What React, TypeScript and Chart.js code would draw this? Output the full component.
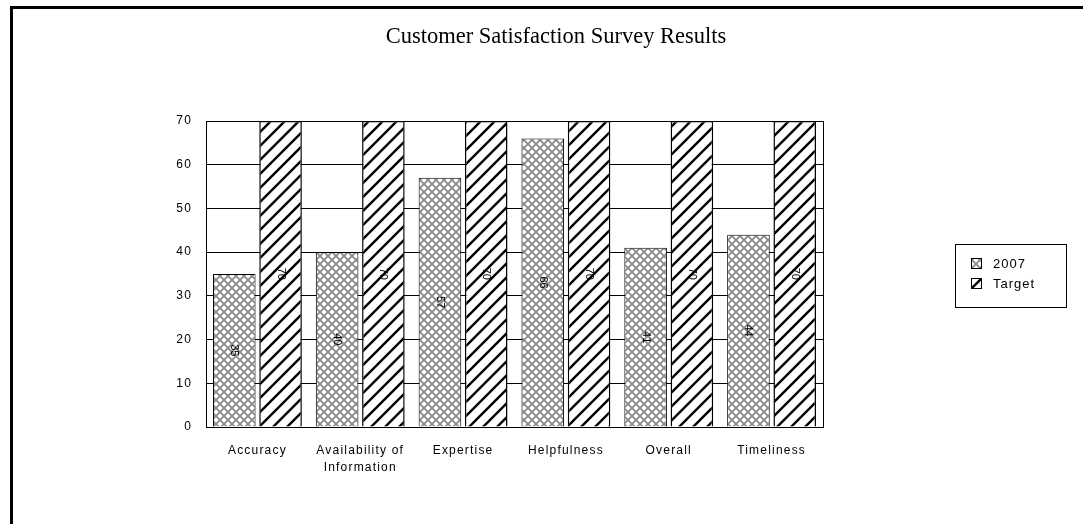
import React, { useEffect, useRef } from "react";
import { Chart, registerables } from "chart.js";

Chart.register(...registerables);

const categories: (string | string[])[] = [
  "Accuracy",
  ["Availability of", "Information"],
  "Expertise",
  "Helpfulness",
  "Overall",
  "Timeliness",
];
const values2007 = [35, 40, 57, 66, 41, 44];
const valuesTarget = [70, 70, 70, 70, 70, 70];
const seriesNames = ["2007", "Target"];
const yTicks = [0, 10, 20, 30, 40, 50, 60, 70];
const chartTitle = "Customer Satisfaction Survey Results";

function makeCrossHatch(): CanvasPattern | string {
  const c = document.createElement("canvas");
  c.width = 8;
  c.height = 8;
  const g = c.getContext("2d");
  if (!g) return "#ccc";
  g.fillStyle = "#ffffff";
  g.fillRect(0, 0, 8, 8);
  g.strokeStyle = "#8a8a8a";
  g.lineWidth = 1.8;
  g.beginPath();
  g.moveTo(-1, -1);
  g.lineTo(9, 9);
  g.moveTo(-1, 9);
  g.lineTo(9, -1);
  g.stroke();
  return g.createPattern(c, "repeat") as CanvasPattern;
}

function makeDiagonal(): CanvasPattern | string {
  const p = 14;
  const c = document.createElement("canvas");
  c.width = p;
  c.height = p;
  const g = c.getContext("2d");
  if (!g) return "#000";
  g.fillStyle = "#ffffff";
  g.fillRect(0, 0, p, p);
  g.strokeStyle = "#000000";
  g.lineWidth = 2.4;
  g.beginPath();
  g.moveTo(-1, p + 1);
  g.lineTo(p + 1, -1);
  g.moveTo(-3, 3);
  g.lineTo(3, -3);
  g.moveTo(p - 3, p + 3);
  g.lineTo(p + 3, p - 3);
  g.stroke();
  return g.createPattern(c, "repeat") as CanvasPattern;
}

export default function App() {
  const ref = useRef<HTMLCanvasElement | null>(null);

  useEffect(() => {
    document.body.style.margin = "0";
    const canvas = ref.current;
    if (!canvas) return;
    const cross = makeCrossHatch();
    const diag = makeDiagonal();

    const spacing = {
      id: "spacing",
      beforeDraw(chart: any) {
        (chart.ctx as any).letterSpacing = "1.2px";
      },
    };

    const decor = {
      id: "decor",
      afterDraw(chart: any) {
        const ctx = chart.ctx as CanvasRenderingContext2D;
        const area = chart.chartArea;
        ctx.save();
        (ctx as any).letterSpacing = "0px";
        // outer frame
        ctx.fillStyle = "#000";
        ctx.fillRect(10, 6, 3, 524);
        ctx.fillRect(10, 6, 1083, 3);
        // title
        ctx.font = '22.5px "Liberation Serif", "Times New Roman", serif';
        ctx.textAlign = "center";
        ctx.textBaseline = "middle";
        ctx.fillText(chartTitle, 556, 37);
        // right border of plot
        ctx.strokeStyle = "#000";
        ctx.lineWidth = 1;
        ctx.beginPath();
        ctx.moveTo(Math.round(area.right) + 0.5, area.top);
        ctx.lineTo(Math.round(area.right) + 0.5, area.bottom);
        ctx.stroke();
        // data labels, rotated
        ctx.font = '11px "Liberation Sans", Arial, sans-serif';
        chart.data.datasets.forEach((ds: any, di: number) => {
          const meta = chart.getDatasetMeta(di);
          meta.data.forEach((bar: any, i: number) => {
            const y = (bar.y + bar.base) / 2;
            ctx.save();
            ctx.translate(bar.x, y);
            ctx.rotate(Math.PI / 2);
            ctx.fillStyle = "#000";
            ctx.textAlign = "center";
            ctx.textBaseline = "middle";
            ctx.fillText(String(ds.data[i]), 0, 0);
            ctx.restore();
          });
        });
        // legend
        ctx.lineWidth = 1;
        ctx.strokeStyle = "#000";
        ctx.strokeRect(955.5, 244.5, 111, 63);
        const fills = [cross, diag];
        (ctx as any).letterSpacing = "1px";
        seriesNames.forEach((name, i) => {
          const sy = 258 + i * 20;
          ctx.fillStyle = fills[i] as any;
          ctx.fillRect(971, sy, 11, 11);
          ctx.strokeRect(971.5, sy + 0.5, 10, 10);
          ctx.fillStyle = "#000";
          ctx.font = '13px "Liberation Sans", Arial, sans-serif';
          ctx.textAlign = "left";
          ctx.textBaseline = "middle";
          ctx.fillText(name, 993, sy + 6);
        });
        ctx.restore();
      },
    };

    const chart = new Chart(canvas, {
      type: "bar",
      data: {
        labels: categories as any,
        datasets: [
          {
            label: seriesNames[0],
            data: values2007,
            backgroundColor: cross as any,
            borderColor: "#000",
            borderWidth: 1,
            categoryPercentage: 0.9,
            barPercentage: 0.92,
          },
          {
            label: seriesNames[1],
            data: valuesTarget,
            backgroundColor: diag as any,
            borderColor: "#000",
            borderWidth: 1.5,
            categoryPercentage: 0.9,
            barPercentage: 0.92,
          },
        ],
      },
      options: {
        responsive: false,
        animation: false,
        layout: { padding: { left: 166, right: 260, top: 121, bottom: 37 } },
        plugins: {
          legend: { display: false },
          title: { display: false },
          tooltip: { enabled: false },
        },
        scales: {
          x: {
            grid: { display: false },
            border: { display: true, color: "#000", width: 1 },
            ticks: {
              color: "#000",
              font: { family: '"Liberation Sans", Arial, sans-serif', size: 12, lineHeight: 1.35 },
              padding: 8,
              maxRotation: 0,
              autoSkip: false,
            },
            afterFit: (s: any) => {
              s.height = 60;
            },
          },
          y: {
            min: 0,
            max: 70,
            afterBuildTicks: (s: any) => {
              s.ticks = yTicks.map((v) => ({ value: v }));
            },
            grid: { color: "#000", lineWidth: 1, drawTicks: false },
            border: { display: true, color: "#000", width: 1 },
            ticks: {
              color: "#000",
              font: { family: '"Liberation Sans", Arial, sans-serif', size: 12 },
              padding: 14,
            },
            afterFit: (s: any) => {
              s.width = 40;
            },
          },
        },
      },
      plugins: [spacing, decor],
    });
    return () => chart.destroy();
  }, []);

  return (
    <div style={{ width: 1083, height: 524, background: "#fff" }}>
      <canvas ref={ref} width={1083} height={524} style={{ display: "block" }} />
    </div>
  );
}
